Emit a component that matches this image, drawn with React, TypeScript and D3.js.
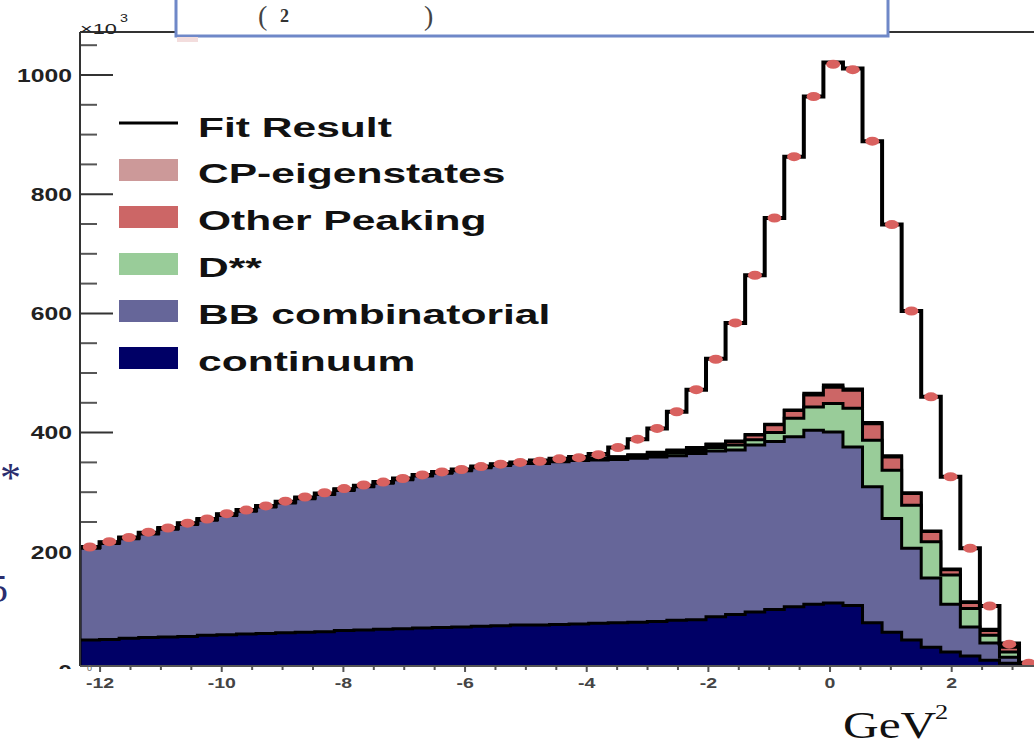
import React from 'react';
import * as d3 from 'd3';

// ---- data (values in units of 10^3 events per bin) ----
const X_MIN = -12.33;
const BIN_WIDTH = 0.3216;

const continuum = [52,53,55,56,57,58,60,61,62,63,64,65,66,68,69,70,71,72,73,74,75,76,77,77,78,79,80,81,82,83,85,86,91,95,99,103,108,112,114,110,81,65,52,40,32,25,18,13,8,5];
const bbCombinatorial = [154,161,167,174,181,188,193,200,206,212,218,224,230,235,240,245,250,255,259,262,266,269,271,271,273,274,274,274,275,276,276,279,278,276,280,282,285,292,287,266,228,191,154,116,80,49,29,10,2,1];
const dStarStar = [1,1,1,1,1,1,1,1,1,1,1,1,1,1,1,1,1,1,1,1,1,1,1,1,1,1.5,2,2.5,3,4,5,5,6,8,9,15,31,39,48,65,78,81,72,61,49,31,13,9,1,0.5];
const otherPeaking = [0.5,0.5,0.5,0.5,0.5,0.5,0.5,0.5,0.5,0.5,0.5,0.5,0.5,0.5,0.5,0.5,0.5,0.5,0.5,0.5,0.5,0.5,0.5,0.5,0.5,0.5,1,1.5,2,3,4,4,5,6,8,13,13,20,27,30,28,22,20,17,9,10,8,8,1,0.5];
const cpEigenstates = [0.5,0.5,0.5,0.5,0.5,0.5,0.5,0.5,0.5,0.5,0.5,0.5,0.5,0.5,0.5,0.5,0.5,0.5,0.5,0.5,0.5,0.5,0.5,0.5,0.5,0.5,0.5,0.5,1,1,1,1,1,1,1,1,1,3,4,2,2,2,1,1,1,1,2,1,0.5,0.3];
const fitResult = [208,216,224,232,240,248,255,263,270,277,284,291,298,305,311,317,323,329,334,338,343,347,350,353,356,359,364,375,389,407,435,472,524,584,664,760,863,964,1021,1011,889,749,604,460,326,206,109,46,14,7];
const dataPoints = [208,217,224,233,240,248,255,264,270,277,285,292,299,306,312,317,323,329,334,338,343,347,350,352,356,358,363,375,389,407,435,472,523,584,664,760,863,964,1018,1009,889,749,604,460,326,206,109,45,13,6];

const yTicks = [200, 400, 600, 800, 1000];
const xTicks = [-12, -10, -8, -6, -4, -2, 0, 2];

const legendLabels = ['Fit Result', 'CP-eigenstates', 'Other Peaking', 'D**', 'BB combinatorial', 'continuum'];
const layerColors = ['#cc9999', '#cc6666', '#99cc99', '#666699', '#000066'];
const legendColors = [null, '#cc9999', '#cc6666', '#99cc99', '#666699', '#000066'];

const W = 1034;
const H = 744;
const PX_PER_UNIT = 60.83;
const LEFT = 80;
const TOP = 32;
const BOTTOM = 666;

export default function App() {
  const nBins = fitResult.length;
  const xMax = X_MIN + nBins * BIN_WIDTH;
  const x = d3.scaleLinear().domain([X_MIN, xMax]).range([LEFT, LEFT + (xMax - X_MIN) * PX_PER_UNIT]);
  const y = d3.scaleLinear().domain([0, 1000]).range([671, 75]);
  const edges = d3.range(nBins + 1).map((i) => X_MIN + i * BIN_WIDTH);
  const centers = d3.range(nBins).map((i) => X_MIN + (i + 0.5) * BIN_WIDTH);

  // stacked cumulative (bottom -> top)
  const comps = [continuum, bbCombinatorial, dStarStar, otherPeaking, cpEigenstates];
  const cum: number[][] = [];
  comps.forEach((c, k) => {
    cum.push(c.map((v, i) => v + (k > 0 ? cum[k - 1][i] : 0)));
  });
  // draw top-most first
  const layers = [cum[4], cum[3], cum[2], cum[1], cum[0]];

  const stepPoints = (vals: number[]) => {
    const pts: [number, number][] = vals.map((v, i) => [edges[i], v]);
    pts.push([edges[nBins], vals[nBins - 1]]);
    return pts;
  };
  const area = d3
    .area<[number, number]>()
    .curve(d3.curveStepAfter)
    .x((d) => x(d[0]))
    .y0(BOTTOM + 5)
    .y1((d) => y(d[1]));
  const line = d3
    .line<[number, number]>()
    .curve(d3.curveStepAfter)
    .x((d) => x(d[0]))
    .y((d) => y(d[1]));

  const minorY = d3.range(50, 1100, 50).filter((v) => v % 200 !== 0);
  const minorX = d3.range(-12, 3.6, 0.5);

  const legendBase = [137, 183, 230, 277, 324, 371];

  return (
    <svg width={W} height={H} style={{ position: 'absolute', left: 0, top: 0, background: '#fff' }}>
      <defs>
        <clipPath id="plotClip">
          <rect x={LEFT} y={TOP} width={W - LEFT} height={BOTTOM - TOP} />
        </clipPath>
        <clipPath id="zeroClip">
          <rect x={0} y={600} width={80} height={69} />
        </clipPath>
      </defs>
      <rect x={0} y={0} width={W} height={H} fill="#fff" />

      {/* y ticks (under the fills) */}
      {yTicks.map((t) => (
        <line key={'yt' + t} x1={LEFT} x2={LEFT + 33} y1={y(t)} y2={y(t)} stroke="#333" strokeWidth={2} />
      ))}
      {minorY.map((t) => (
        <line key={'ym' + t} x1={LEFT} x2={LEFT + 17} y1={y(t)} y2={y(t)} stroke="#555" strokeWidth={2} />
      ))}

      <g clipPath="url(#plotClip)">
        {layers.map((vals, k) => (
          <path key={'l' + k} d={area(stepPoints(vals)) || ''} fill={layerColors[k]} stroke="#000" strokeWidth={3} strokeLinejoin="miter" />
        ))}
        <path d={line(stepPoints(fitResult)) || ''} fill="none" stroke="#000" strokeWidth={4} />
        {dataPoints.map((v, i) => (
          <ellipse key={'d' + i} cx={x(centers[i])} cy={y(v)} rx={7} ry={4.5} fill="#d9615f" />
        ))}
      </g>

      {/* frame */}
      <line x1={LEFT} x2={LEFT} y1={TOP} y2={BOTTOM} stroke="#333" strokeWidth={2} />
      <line x1={LEFT} x2={W} y1={TOP} y2={TOP} stroke="#333" strokeWidth={2} />
      <line x1={LEFT} x2={W} y1={BOTTOM} y2={BOTTOM} stroke="#555" strokeWidth={2} />
      {minorX.map((t) => (
        <line key={'xm' + t} x1={x(t)} x2={x(t)} y1={BOTTOM} y2={BOTTOM + (Math.abs(t % 2) < 1e-6 ? 6 : 4)} stroke="#555" strokeWidth={2} />
      ))}

      {/* y labels */}
      {yTicks.map((t) => (
        <text key={'yl' + t} transform={`translate(72,${y(t)}) scale(1.3,1)`} dy="0.36em" textAnchor="end"
          fontFamily="'Liberation Sans', Arial, sans-serif" fontWeight="bold" fontSize={19} fill="#222">
          {t}
        </text>
      ))}
      <g clipPath="url(#zeroClip)">
        <text transform={`translate(72,${y(0)}) scale(1.3,1)`} dy="0.36em" textAnchor="end"
          fontFamily="'Liberation Sans', Arial, sans-serif" fontWeight="bold" fontSize={19} fill="#222">0</text>
      </g>
      <text x={87} y={671} fontFamily="'Liberation Sans', Arial, sans-serif" fontSize={9} fill="#666">0</text>
      <text transform="translate(80,34) scale(1.45,1)" fontFamily="'Liberation Sans', Arial, sans-serif" fontSize={15} fill="#222">×10</text>
      <text transform="translate(120,22) scale(1.3,1)" fontFamily="'Liberation Sans', Arial, sans-serif" fontSize={11} fill="#222">3</text>

      {/* x labels */}
      {xTicks.map((t) => (
        <text key={'xl' + t} transform={`translate(${x(t)},688) scale(1.3,1)`} textAnchor="middle"
          fontFamily="'Liberation Sans', Arial, sans-serif" fontWeight="bold" fontSize={15} fill="#444">
          {t}
        </text>
      ))}

      {/* legend */}
      {legendLabels.map((lab, i) => (
        <g key={'lg' + i}>
          {legendColors[i] === null ? (
            <line x1={119} x2={178} y1={legendBase[i] - 14} y2={legendBase[i] - 14} stroke="#000" strokeWidth={3} />
          ) : (
            <rect x={119} y={legendBase[i] - 24} width={59} height={22} fill={legendColors[i] as string} />
          )}
          <text transform={`translate(198,${legendBase[i]}) scale(1.52,1)`} fontFamily="'Liberation Sans', Arial, sans-serif"
            fontWeight="bold" fontSize={28} fill="#111">
            {lab}
          </text>
        </g>
      ))}

      {/* slide overlay: formula box at the top */}
      <rect x={176} y={-10} width={712} height={46} fill="#fff" stroke="#6f88c8" strokeWidth={3} />
      <rect x={177} y={37} width={21} height={5} fill="#f3dddd" />
      <text x={258} y={25} fontFamily="'Liberation Serif', serif" fontSize={28} fill="#444">(</text>
      <text x={280} y={22} fontFamily="'Liberation Serif', serif" fontWeight="bold" fontSize={18} fill="#333">2</text>
      <text x={424} y={25} fontFamily="'Liberation Serif', serif" fontSize={28} fill="#444">)</text>

      {/* slide overlay: left edge text */}
      <text x={0} y={492} fontFamily="'Liberation Serif', serif" fontSize={42} fill="#2b2d6e">*</text>
      <text x={-12} y={602} fontFamily="'Liberation Serif', serif" fontSize={40} fill="#2b2d6e">5</text>

      {/* axis unit */}
      <text transform="translate(843,738) scale(1.3,1)" fontFamily="'Liberation Serif', serif" fontSize={38} fill="#111">GeV</text>
      <text transform="translate(935,719) scale(1.2,1)" fontFamily="'Liberation Serif', serif" fontSize={22} fill="#111">2</text>
    </svg>
  );
}
